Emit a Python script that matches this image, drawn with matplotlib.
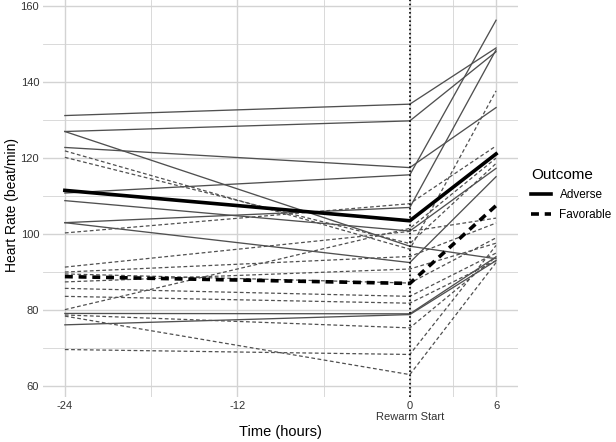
import matplotlib.pyplot as plt
from matplotlib.lines import Line2D

plt.rcParams['font.family'] = ['Liberation Sans', 'DejaVu Sans']

# time points (hours relative to rewarm start)
times = [-24, 0, 6]

# individual subjects, heart rate at -24 h, 0 h, 6 h
adverse = [
    [131.2, 134.2, 149.0],
    [127.0, 129.8, 148.0],
    [127.0, 96.8, 93.5],
    [122.8, 117.5, 133.3],
    [110.8, 115.6, 156.3],
    [108.8, 100.8, 117.3],
    [103.0, 107.0, 148.5],
    [103.0, 92.5, 115.1],
    [79.1, 79.0, 94.0],
    [76.1, 78.8, 93.0],
]
favorable = [
    [121.9, 96.0, 137.7],
    [120.2, 97.5, 118.6],
    [100.3, 108.0, 123.2],
    [91.3, 100.7, 104.2],
    [90.0, 94.1, 102.9],
    [89.5, 87.1, 99.0],
    [87.4, 90.8, 97.6],
    [85.7, 83.6, 95.0],
    [83.6, 81.8, 93.0],
    [80.1, 101.5, 120.0],
    [78.7, 75.3, 94.0],
    [78.4, 63.0, 92.5],
    [69.6, 68.3, 97.0],
]

# group mean trajectories
adverse_mean = [111.5, 103.5, 121.1]
favorable_mean = [88.8, 87.0, 107.5]

x_ticks = [-24, -12, 0, 6]
x_labels = ['-24', '-12', '0\nRewarm Start', '6']
y_ticks = [60, 80, 100, 120, 140, 160]

fig = plt.figure(figsize=(6.16, 4.42), dpi=100)
ax = fig.add_axes([0.0703, 0.1018, 0.770, 0.898])

grid_col = '#d3d3d3'
for yv in range(60, 161, 10):
    ax.axhline(yv, color=grid_col, lw=1.0 if yv % 20 == 0 else 0.6, zorder=0)
for xv in [-24, -18, -12, -6, 0, 3, 6]:
    ax.axvline(xv, color=grid_col, lw=1.0 if xv in x_ticks else 0.6, zorder=0)

for row in adverse:
    ax.plot(times, row, color='#505050', lw=0.95, zorder=2)
for row in favorable:
    ax.plot(times, row, color='#505050', lw=0.9, ls=(0, (3, 2)), zorder=2)

ax.plot(times, adverse_mean, color='black', lw=2.6, zorder=4)
ax.plot(times, favorable_mean, color='black', lw=2.6, ls=(0, (2.2, 1.6)), zorder=4)

# rewarm start marker
ax.axvline(0, color='black', lw=1.2, ls=(0, (1, 1.5)), zorder=5)

ax.set_xlim(-25.5, 7.5)
ax.set_ylim(57.1, 161.6)
ax.set_xticks(x_ticks)
ax.set_xticklabels(x_labels, linespacing=1.1)
ax.set_yticks(y_ticks)
ax.tick_params(length=0, labelsize=8, labelcolor='#333333', pad=3)
for s in ax.spines.values():
    s.set_visible(False)

fig.text(0.5 * (0.0703 + 0.8403), 1 - 432 / 442, 'Time (hours)', ha='center', va='center',
         fontsize=10.5, color='black')
fig.text(12 / 616, 1 - 205 / 442, 'Heart Rate (beat/min)', rotation=90, ha='center',
         va='center', fontsize=10, color='black')

handles = [Line2D([], [], color='black', lw=2.6),
           Line2D([], [], color='black', lw=2.6, ls=(0, (2.2, 1.6)))]
leg = fig.legend(handles, ['Adverse', 'Favorable'], title='Outcome',
                 loc='upper left', bbox_to_anchor=(0.845, 0.645), frameon=False,
                 fontsize=8.5, title_fontsize=11, handlelength=1.7, handletextpad=0.7,
                 labelspacing=0.65)
leg._legend_box.align = 'left'

fig.savefig('out.png', dpi=100)
